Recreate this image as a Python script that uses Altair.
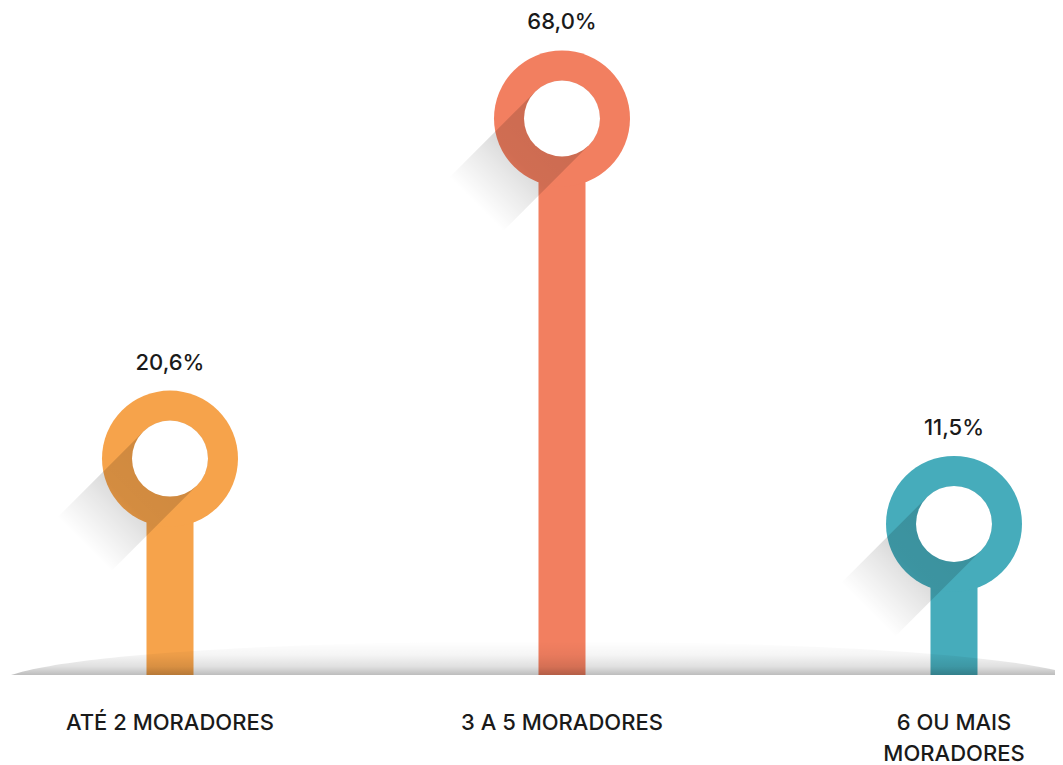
import altair as alt
import pandas as pd

categories = ["ATÉ 2 MORADORES", "3 A 5 MORADORES", "6 OU MAIS MORADORES"]
category_labels = ["ATÉ 2 MORADORES", "3 A 5 MORADORES", "6 OU MAIS\nMORADORES"]
values = [20.6, 68.0, 11.5]
value_labels = ["20,6%", "68,0%", "11,5%"]
colors = ["#F6A34B", "#F27F60", "#46ACBB"]

df = pd.DataFrame({
    "cat": categories,
    "cl": category_labels,
    "v": values,
    "lab": value_labels,
})

X = alt.X("cat:N", sort=categories,
          scale=alt.Scale(type="point", range=[162, 946], padding=0), axis=None)
Y = alt.Y("v:Q", scale=alt.Scale(domain=[0, 83.4], range=[598.4, 0]), axis=None, stack=None)
C = alt.Color("cat:N", scale=alt.Scale(domain=categories, range=colors), legend=None)

base = alt.Chart(df).encode(x=X)

bars = base.mark_bar(width=47).encode(y=Y, y2=alt.value(667), color=C)

ground_grad = {
    "gradient": "linear", "x1": 0, "y1": 1, "x2": 0, "y2": 0,
    "stops": [
        {"offset": 0, "color": "rgba(0,0,0,0.26)"},
        {"offset": 0.25, "color": "rgba(0,0,0,0.12)"},
        {"offset": 0.6, "color": "rgba(0,0,0,0.04)"},
        {"offset": 1, "color": "rgba(0,0,0,0)"},
    ],
}
ground = alt.Chart(alt.Data(values=[{"g": 1}])).mark_point(
    shape="M -1 0 C -0.75 -0.085 0.75 -0.085 1 0 Z",
    size=1062 ** 2, filled=True, fill=ground_grad, strokeWidth=0, opacity=1,
).encode(x=alt.value(534), y=alt.value(667))

ring = base.mark_circle(size=136 ** 2, opacity=1).encode(y=Y, color=C)

shadow_grad = {
    "gradient": "linear", "x1": 1, "y1": 0, "x2": 0, "y2": 1,
    "stops": [
        {"offset": 0, "color": "rgba(0,0,0,0.16)"},
        {"offset": 0.5, "color": "rgba(0,0,0,0.14)"},
        {"offset": 0.62, "color": "rgba(0,0,0,0.10)"},
        {"offset": 1, "color": "rgba(0,0,0,0)"},
    ],
}
shadow = base.mark_rule(
    strokeWidth=76, strokeCap="round", stroke=shadow_grad, opacity=1,
    x2Offset=-86, y2Offset=86,
).encode(y=Y, x2=alt.X2("cat:N"), y2=alt.Y2("v:Q"))

inner = base.mark_circle(size=76 ** 2, color="white", opacity=1).encode(y=Y)

value_text = base.mark_text(
    dy=-96, fontSize=22, font="Inter", fontWeight=500, color="#1a1a1a",
).encode(y=Y, text="lab:N")

cat_text = base.mark_text(
    baseline="top", fontSize=22, font="Inter", fontWeight=500, color="#1a1a1a",
    lineBreak="\n", lineHeight=31,
).encode(y=alt.value(705), text="cl:N")

chart = alt.layer(bars, ground, ring, shadow, inner, value_text, cat_text).properties(
    width=1047, height=757, padding=0,
    autosize=alt.AutoSizeParams(type="none"),
).configure_view(stroke=None)

chart.save("out.html", embed_options={"renderer": "svg", "actions": False})
